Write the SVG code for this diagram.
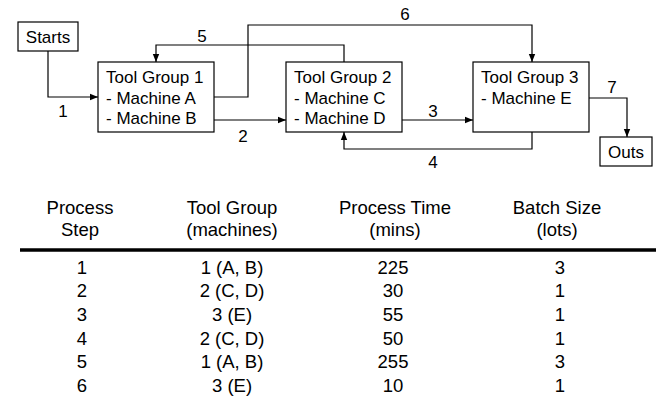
<svg xmlns="http://www.w3.org/2000/svg" width="656" height="399" viewBox="0 0 656 399">
  <style>
    text { font-family: "Liberation Sans", Arial, sans-serif; font-size: 17px; fill: #000; }
    .box { fill: #fff; stroke: #000; stroke-width: 1.2; }
    .edge { fill: none; stroke: #000; stroke-width: 1.2; marker-end: url(#arrow); }
    .mid { text-anchor: middle; }
    #table text { font-size: 18.5px; text-anchor: middle; }
  </style>
  <defs>
    <marker id="arrow" viewBox="0 0 10 10" refX="10" refY="5" markerWidth="8" markerHeight="8" markerUnits="userSpaceOnUse" orient="auto">
      <path d="M0,1 L10,5 L0,9 Z" fill="#000"/>
    </marker>
  </defs>
  <rect width="656" height="399" fill="#fff"/>

  <!-- flow connectors -->
  <g id="connectors">
    <path class="edge" d="M48,51 V97 H98"/>
    <path class="edge" d="M214,120 H286"/>
    <path class="edge" d="M402,120 H473"/>
    <path class="edge" d="M532,132 V149 H344 V132"/>
    <path class="edge" d="M344,62 V45 H156 V62"/>
    <path class="edge" d="M214,97 H248 V25 H532 V62"/>
    <path class="edge" d="M589,98 H627 V137"/>
    <text class="mid" x="63" y="117">1</text>
    <text class="mid" x="243" y="142">2</text>
    <text class="mid" x="433" y="117">3</text>
    <text class="mid" x="433" y="168">4</text>
    <text class="mid" x="202" y="42">5</text>
    <text class="mid" x="405" y="20">6</text>
    <text class="mid" x="612" y="93">7</text>
  </g>

  <g id="starts">
    <rect class="box" x="18" y="22" width="60" height="29"/>
    <text class="mid" x="48" y="43">Starts</text>
  </g>
  <g id="tool-group-1">
    <rect class="box" x="98" y="62" width="116" height="70"/>
    <text x="106" y="83">Tool Group 1</text>
    <text x="106" y="104">- Machine A</text>
    <text x="106" y="124">- Machine B</text>
  </g>
  <g id="tool-group-2">
    <rect class="box" x="286" y="62" width="116" height="70"/>
    <text x="294" y="83">Tool Group 2</text>
    <text x="294" y="104">- Machine C</text>
    <text x="294" y="124">- Machine D</text>
  </g>
  <g id="tool-group-3">
    <rect class="box" x="473" y="62" width="116" height="70"/>
    <text x="481" y="83">Tool Group 3</text>
    <text x="481" y="104">- Machine E</text>
  </g>
  <g id="outs">
    <rect class="box" x="600" y="137" width="52" height="29"/>
    <text class="mid" x="626" y="158">Outs</text>
  </g>

  <!-- process step table -->
  <g id="table">
    <text x="80" y="214">Process</text>
    <text x="80" y="236">Step</text>
    <text x="232" y="214">Tool Group</text>
    <text x="232" y="236">(machines)</text>
    <text x="395" y="214">Process Time</text>
    <text x="395" y="236">(mins)</text>
    <text x="557" y="214">Batch Size</text>
    <text x="557" y="236">(lots)</text>
    <line x1="20" y1="250" x2="656" y2="250" stroke="#000" stroke-width="3.5"/>

    <text x="82" y="274">1</text>
    <text x="232" y="274">1 (A, B)</text>
    <text x="393" y="274">225</text>
    <text x="560" y="274">3</text>

    <text x="82" y="297">2</text>
    <text x="232" y="297">2 (C, D)</text>
    <text x="393" y="297">30</text>
    <text x="560" y="297">1</text>

    <text x="82" y="321">3</text>
    <text x="232" y="321">3 (E)</text>
    <text x="393" y="321">55</text>
    <text x="560" y="321">1</text>

    <text x="82" y="345">4</text>
    <text x="232" y="345">2 (C, D)</text>
    <text x="393" y="345">50</text>
    <text x="560" y="345">1</text>

    <text x="82" y="368">5</text>
    <text x="232" y="368">1 (A, B)</text>
    <text x="393" y="368">255</text>
    <text x="560" y="368">3</text>

    <text x="82" y="392">6</text>
    <text x="232" y="392">3 (E)</text>
    <text x="393" y="392">10</text>
    <text x="560" y="392">1</text>
  </g>
</svg>
